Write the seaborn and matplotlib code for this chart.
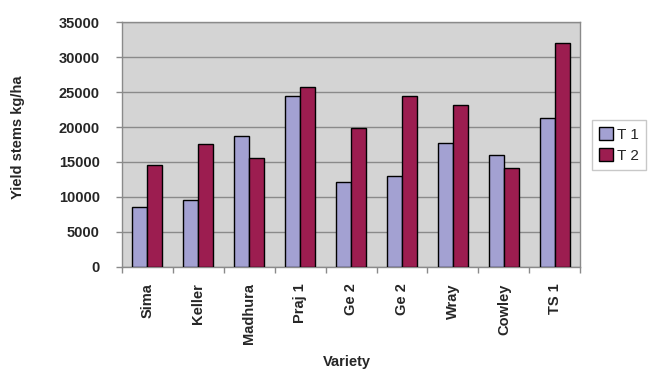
import matplotlib
matplotlib.use("Agg")
import matplotlib.pyplot as plt
import numpy as np
import pandas as pd
import seaborn as sns
from matplotlib.patches import Patch

varieties = ["Sima", "Keller", "Madhura", "Praj 1", "Ge 2", "Ge 2", "Wray", "Cowley", "TS 1"]
t1 = [8600, 9500, 18700, 24500, 12200, 13000, 17700, 16000, 21300]
t2 = [14500, 17500, 15600, 25700, 19800, 24500, 23200, 14100, 32000]
series = ["T 1", "T 2"]
colors = ["#a3a1d2", "#9c1d50"]

# one row per bar; position index keeps the two "Ge 2" groups apart
pos = list(range(len(varieties)))
df = pd.DataFrame({
    "pos": pos * 2,
    "yield": t1 + t2,
    "series": [series[0]] * len(pos) + [series[1]] * len(pos),
})

sns.set_theme(style="white")
plt.rcParams["font.family"] = ["Liberation Sans", "DejaVu Sans"]

fig = plt.figure(figsize=(6.52, 3.70), dpi=100)
ax = fig.add_axes([0.187, 0.279, 0.703, 0.661])
ax.set_facecolor("#d4d4d4")

sns.barplot(data=df, x="pos", y="yield", hue="series", palette=colors,
            saturation=1, width=0.59, gap=0, edgecolor="black", linewidth=1.0,
            legend=False, ax=ax, zorder=3)

ax.set_ylim(0, 35000)
ax.set_xlim(-0.5, len(varieties) - 0.5)
yt = np.arange(0, 35001, 5000)
ax.set_yticks(yt)
ax.set_yticklabels([str(v) for v in yt], fontsize=10.5, fontweight="bold")
ax.yaxis.grid(True, color="#8a8a8a", linewidth=1.0, zorder=0)
ax.set_axisbelow(True)

ax.set_xticks(pos)
ax.set_xticklabels(varieties, rotation=90, fontsize=10.5, fontweight="bold")
ax.set_xticks(np.arange(-0.5, len(varieties), 1), minor=True)
ax.tick_params(axis="x", which="major", length=0, pad=12)
ax.tick_params(axis="x", which="minor", length=4, color="#8a8a8a", width=1, bottom=True)
ax.tick_params(axis="y", which="major", length=4, color="#8a8a8a", width=1, left=True, pad=12)

for side in ["top", "right", "bottom", "left"]:
    ax.spines[side].set_color("#8a8a8a")
    ax.spines[side].set_linewidth(1.0)

ax.set_xlabel("Variety", fontsize=10.5, fontweight="bold")
ax.xaxis.set_label_coords(0.49, -0.36)
ax.set_ylabel("Yield stems kg/ha", fontsize=10.5, fontweight="bold")
ax.yaxis.set_label_coords(-0.212, 0.53)

handles = [Patch(facecolor=c, edgecolor="black", linewidth=1.0) for c in colors]
leg = fig.legend(handles, series, loc="center left", bbox_to_anchor=(0.908, 0.608),
                 frameon=True, fancybox=False, fontsize=11, handlelength=0.9,
                 handleheight=0.9, handletextpad=0.3, borderpad=0.45, labelspacing=0.45,
                 borderaxespad=0)
leg.get_frame().set_edgecolor("#bbbbbb")
leg.get_frame().set_linewidth(1.0)

fig.savefig("out.png", dpi=100)
